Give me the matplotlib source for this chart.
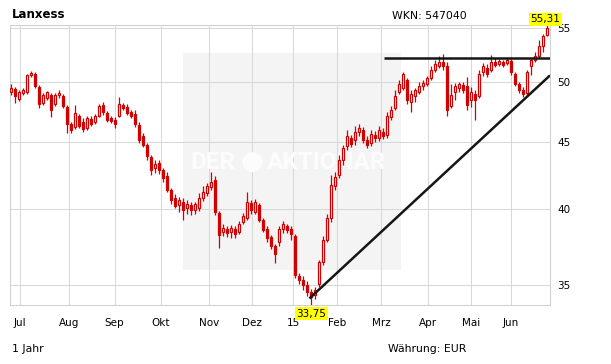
import matplotlib
matplotlib.use("Agg")
import matplotlib.pyplot as plt
import numpy as np
from matplotlib.patches import Rectangle, Ellipse

# ---- data ----
opens = [49.14, 49.40, 48.54, 49.05, 49.14, 50.63, 50.72, 49.57, 48.20, 48.62,
         48.88, 48.11, 48.88, 48.79, 47.86, 46.45, 46.21, 47.11, 46.62, 46.12,
         46.86, 46.62, 47.11, 48.03, 47.36, 46.94, 46.78, 47.11, 48.03, 47.86,
         47.44, 47.28, 46.37, 45.48, 44.76, 43.83, 42.99, 43.37, 42.84, 42.39,
         41.36, 40.77, 40.28, 40.49, 40.07, 40.28, 39.93, 40.07, 40.77, 41.14,
         41.58, 42.09, 39.72, 38.41, 38.61, 38.41, 38.61, 38.41, 39.09, 39.37,
         40.42, 39.79, 40.28, 39.23, 38.61, 38.07, 37.47, 37.74, 38.61, 38.81,
         38.61, 38.14, 35.55, 35.29, 34.98, 34.56, 34.37, 35.04, 36.43, 37.87,
         39.37, 41.65, 42.46, 43.60, 44.68, 45.32, 45.16, 45.80, 45.96, 45.16,
         44.92, 45.56, 45.32, 45.80, 45.56, 47.03, 47.78, 49.14, 49.49, 50.19,
         48.28, 48.79, 49.14, 49.66, 49.84, 50.37, 51.08, 51.44, 51.81, 51.44,
         47.95, 49.14, 49.49, 49.75, 49.66, 48.45, 48.97, 48.79, 50.90, 51.26,
         51.08, 51.81, 51.62, 51.81, 51.71, 51.90, 50.72, 49.84, 49.31, 49.05,
         51.44, 51.99, 52.36, 53.28, 54.33]
closes = [49.49, 48.79, 49.14, 49.31, 50.63, 50.81, 49.66, 48.11, 48.88, 49.14,
          47.61, 48.88, 49.05, 47.95, 46.45, 45.96, 47.36, 46.29, 46.04, 46.94,
          46.45, 47.11, 47.95, 47.44, 46.78, 46.70, 46.45, 48.11, 47.78, 47.36,
          47.11, 46.45, 45.16, 44.76, 43.90, 42.84, 43.29, 42.84, 42.24, 41.36,
          40.63, 40.21, 40.63, 39.93, 40.35, 39.93, 40.35, 40.77, 41.21, 41.65,
          41.94, 39.79, 38.21, 38.68, 38.34, 38.68, 38.27, 38.95, 39.51, 40.49,
          39.93, 40.49, 39.23, 38.54, 38.01, 37.47, 36.95, 38.61, 38.95, 38.54,
          38.27, 35.61, 35.29, 34.98, 34.56, 34.25, 34.68, 36.43, 37.87, 39.37,
          41.72, 42.31, 43.60, 44.52, 45.48, 44.84, 45.80, 46.12, 45.16, 44.76,
          45.64, 45.32, 45.96, 45.48, 47.11, 47.61, 48.79, 49.84, 50.72, 48.45,
          48.97, 49.31, 49.66, 49.93, 50.37, 51.08, 51.62, 51.81, 51.44, 47.61,
          48.88, 49.66, 49.84, 49.31, 48.03, 49.14, 48.45, 50.72, 51.44, 50.72,
          51.81, 51.53, 51.90, 51.53, 51.99, 50.90, 49.84, 49.31, 48.97, 50.90,
          51.99, 52.36, 53.28, 54.23, 55.00]
highs = [49.84, 49.57, 49.31, 49.49, 50.72, 50.99, 50.90, 49.75, 49.05, 49.22,
         49.05, 49.05, 49.31, 48.97, 48.03, 46.62, 48.03, 47.28, 46.94, 47.11,
         47.11, 47.28, 48.11, 48.28, 47.53, 47.11, 47.03, 48.71, 48.20, 48.11,
         47.61, 47.61, 46.62, 45.72, 44.92, 43.98, 43.60, 43.60, 42.99, 42.69,
         41.51, 41.06, 40.85, 40.77, 40.63, 40.49, 40.49, 41.14, 41.65, 41.87,
         42.69, 42.39, 39.86, 38.95, 38.81, 38.88, 38.81, 39.16, 39.72, 41.21,
         40.63, 40.70, 40.42, 39.37, 38.81, 38.21, 37.61, 38.81, 39.16, 38.95,
         38.81, 38.27, 35.73, 35.55, 35.23, 34.74, 34.86, 36.56, 38.14, 39.65,
         42.46, 42.69, 43.98, 44.76, 45.96, 45.56, 46.29, 46.45, 46.21, 45.48,
         45.96, 45.88, 46.29, 46.12, 47.44, 47.95, 49.31, 50.19, 50.90, 50.37,
         49.31, 49.49, 50.01, 50.19, 50.54, 51.44, 51.99, 52.36, 52.54, 51.81,
         49.84, 49.93, 50.01, 50.01, 50.45, 49.57, 49.31, 51.08, 51.71, 51.62,
         52.45, 52.17, 52.08, 51.99, 52.17, 52.08, 50.90, 50.01, 49.57, 51.08,
         52.17, 52.73, 53.85, 54.42, 55.31]
lows = [48.88, 48.20, 48.37, 48.88, 48.97, 50.45, 49.49, 47.78, 48.03, 48.45,
        47.03, 47.95, 48.62, 47.78, 45.72, 45.72, 46.04, 46.12, 45.80, 45.96,
        46.29, 46.45, 47.03, 47.19, 46.62, 46.53, 46.12, 47.03, 47.61, 47.19,
        46.94, 46.21, 44.92, 44.60, 43.60, 42.46, 42.61, 42.54, 41.94, 41.21,
        40.35, 40.07, 39.79, 39.23, 39.65, 39.58, 39.65, 39.86, 40.56, 40.92,
        41.36, 39.58, 37.34, 38.14, 38.07, 38.01, 38.01, 38.27, 38.95, 39.23,
        39.65, 39.65, 39.09, 38.41, 37.74, 37.28, 36.37, 37.47, 38.34, 38.34,
        37.87, 35.42, 35.04, 34.68, 34.31, 33.75, 34.13, 34.86, 36.24, 37.74,
        39.09, 41.36, 42.24, 43.21, 44.37, 44.60, 44.76, 45.48, 44.92, 44.52,
        44.68, 45.00, 45.08, 45.24, 45.32, 46.78, 47.61, 48.97, 49.31, 48.11,
        47.44, 48.28, 48.97, 49.31, 49.66, 50.19, 50.90, 51.26, 51.08, 47.11,
        47.78, 48.45, 49.14, 49.05, 47.61, 47.86, 46.78, 48.62, 50.54, 50.45,
        50.90, 51.35, 51.44, 51.35, 51.53, 50.63, 49.66, 49.05, 48.71, 48.88,
        50.63, 51.81, 52.17, 52.73, 54.23]

month_labels = ["Jul", "Aug", "Sep", "Okt", "Nov", "Dez", "15",
                "Feb", "Mrz", "Apr", "Mai", "Jun"]
month_pos = [2.25, 14.5, 25.9, 37.5, 49.5, 60.25, 70.5,
             81.5, 92.5, 104.25, 115.0, 125.0]
y_ticks = [35, 40, 45, 50, 55]
y_ticklabels = ["35", "40", "45", "50", "55"]

resistance_x = [93.25, 134.75]
resistance_y = [52.15, 52.15]
support_x = [74.6, 134.75]
support_y = [34.15, 50.6]

title = "Lanxess"
wkn = "WKN: 547040"
period = "1 Jahr"
currency = "Währung: EUR"

# ---- figure ----
W, H = 611, 364
fig = plt.figure(figsize=(W / 100, H / 100), dpi=100)
fig.patch.set_facecolor("white")
ax = fig.add_axes([10 / W, (H - 305) / H, 540 / W, 280 / H])

o = np.array(opens); c = np.array(closes)
hi = np.array(highs); lo = np.array(lows)
idx = np.arange(len(o))
up = c >= o
red = "#d20000"

ax.set_yscale("log")
ax.set_xlim(-0.25, len(o) - 0.25)
ax.set_ylim(33.76, 55.30)

# watermark
ax.add_patch(Rectangle((0.3204, 0.125), 0.4037, 0.775, transform=ax.transAxes,
                       facecolor="#f4f4f4", edgecolor="none", zorder=0.2))
wm_color = "#fcfcfc"
ax.text(0.4167, 0.51, "DER", transform=ax.transAxes, ha="right", va="center",
        fontsize=17.5, fontweight="bold", family="Roboto", color=wm_color, zorder=1)
ax.add_patch(Ellipse((0.449, 0.51), 20 / 540, 20 / 280, transform=ax.transAxes,
                     facecolor=wm_color, edgecolor="none", zorder=1))
ax.text(0.475, 0.51, "AKTIONÄR", transform=ax.transAxes, ha="left", va="center",
        fontsize=17.5, fontweight="bold", family="Roboto", color=wm_color, zorder=1)

# candles
ax.vlines(idx, lo, hi, color=red, lw=0.9, zorder=3)
bottoms = np.minimum(o, c)
heights = np.abs(c - o)
ax.bar(idx[up], heights[up], bottom=bottoms[up], width=0.7,
       facecolor="white", edgecolor=red, linewidth=0.9, zorder=4)
ax.bar(idx[~up], heights[~up], bottom=bottoms[~up], width=0.7,
       facecolor=red, edgecolor=red, linewidth=0.9, zorder=4)

# trend lines
ax.plot(resistance_x, resistance_y, color="#151515", lw=1.8, zorder=5,
        solid_capstyle="butt")
ax.plot(support_x, support_y, color="#151515", lw=1.8, zorder=5,
        solid_capstyle="butt")

# axes styling
ax.set_yticks(y_ticks)
ax.set_yticklabels(y_ticklabels)
ax.minorticks_off()
ax.yaxis.tick_right()
ax.set_xticks(month_pos)
ax.set_xticklabels(month_labels)
ax.tick_params(axis="y", length=0, pad=5, labelsize=7.5, colors="black")
ax.tick_params(axis="x", length=0, pad=9, labelsize=7.5, colors="black")
ax.grid(True, color="#d8d8d8", lw=0.75)
ax.set_axisbelow(True)
for s in ax.spines.values():
    s.set_color("#d0d0d0")
    s.set_linewidth(0.75)

# high / low labels
imax = int(np.argmax(hi)); imin = int(np.argmin(lo))
ax.annotate(f"{hi[imax]:.2f}".replace(".", ","), xy=(imax, hi[imax]),
            xytext=(-1, 4), textcoords="offset points", ha="center", va="center",
            fontsize=7.5, zorder=6, annotation_clip=False,
            bbox=dict(boxstyle="square,pad=0.15", facecolor="#ffff00", edgecolor="none"))
ax.annotate(f"{lo[imin]:.2f}".replace(".", ","), xy=(imin, lo[imin]),
            xytext=(0, -6), textcoords="offset points", ha="center", va="center",
            fontsize=7.5, zorder=6, annotation_clip=False,
            bbox=dict(boxstyle="square,pad=0.15", facecolor="#ffff00", edgecolor="none"))

# header / footer texts
fig.text(12 / W, 1 - 14.5 / H, title, ha="left", va="center",
         fontsize=8.5, fontweight="bold")
fig.text(392 / W, 1 - 16 / H, wkn, ha="left", va="center", fontsize=7.8)
fig.text(12 / W, 1 - 349 / H, period, ha="left", va="center", fontsize=7.8)
fig.text(388 / W, 1 - 349 / H, currency, ha="left", va="center", fontsize=7.8)

fig.savefig("out.png", dpi=100, facecolor="white")
